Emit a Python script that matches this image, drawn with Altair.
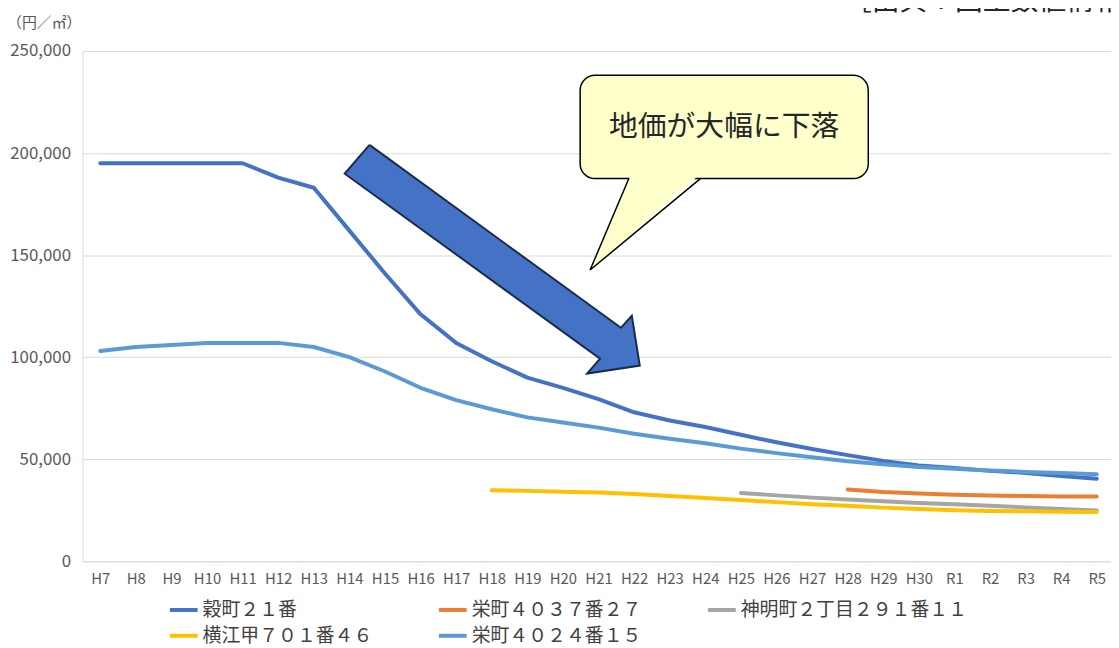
import altair as alt
import pandas as pd

FONT = "Noto Sans CJK JP"

# ---- data ----
cats = ["H7", "H8", "H9", "H10", "H11", "H12", "H13", "H14", "H15", "H16",
        "H17", "H18", "H19", "H20", "H21", "H22", "H23", "H24", "H25", "H26",
        "H27", "H28", "H29", "H30", "R1", "R2", "R3", "R4", "R5"]

series_names = ["穀町２１番", "栄町４０３７番２７", "神明町２丁目２９１番１１",
                "横江甲７０１番４６", "栄町４０２４番１５"]
series_colors = ["#4472C4", "#ED7D31", "#A5A5A5", "#FFC000", "#5B9BD5"]

s_koku21 = [195000, 195000, 195000, 195000, 195000, 188000, 183000, 162000, 141000, 121000,
            107000, 98000, 90000, 85000, 79500, 73000, 69000, 65800, 62000, 58300,
            55000, 52000, 49200, 47000, 45700, 44300, 43300, 41800, 40400]
s_sakae4037_27 = [None, None, None, None, None, None, None, None, None, None,
                  None, None, None, None, None, None, None, None, None, None,
                  None, 35200, 34000, 33200, 32600, 32200, 32000, 31800, 31800]
s_shinmei = [None, None, None, None, None, None, None, None, None, None,
             None, None, None, None, None, None, None, None, 33500, 32300,
             31200, 30300, 29400, 28600, 27900, 27200, 26400, 25600, 24900]
s_yokoe = [None, None, None, None, None, None, None, None, None, None,
           None, 34800, 34500, 34100, 33700, 33000, 32000, 31000, 30000, 29000,
           28000, 27200, 26300, 25600, 25000, 24700, 24500, 24300, 24200]
s_sakae4024_15 = [103000, 105000, 106000, 107000, 107000, 107000, 105000, 100000, 93000, 85000,
                  79000, 74500, 70500, 68000, 65500, 62500, 60000, 57800, 55200, 53000,
                  51000, 49000, 47600, 46200, 45300, 44500, 43800, 43300, 42700]

all_series = [s_koku21, s_sakae4037_27, s_shinmei, s_yokoe, s_sakae4024_15]

y_ticks = [0, 50000, 100000, 150000, 200000, 250000]
y_unit = "（円／㎡）"
source_text = "［出典：国土数値情報］"
callout_text = "地価が大幅に下落"

# annotation geometry in data units (category index, 円/㎡)
arrow_x = [7.566, 14.629, 14.936, 15.159, 13.680, 14.043, 6.868, 7.566]
arrow_y = [204000, 114400, 120300, 95900, 92000, 99300, 189900, 204000]
box_x, box_x2 = 13.484, 21.58
box_y, box_y2 = 187500, 238100
tail_fill_x = [14.90, 13.763, 16.80]
tail_fill_y = [189000, 142700, 189000]
tail_line_x = [14.852, 13.763, 16.862]
tail_line_y = [187500, 142700, 187500]
callout_pos = (17.53, 212800)

rows = []
for name, vals in zip(series_names, all_series):
    for i, v in enumerate(vals):
        if v is not None:
            rows.append({"series": name, "idx": i, "value": v})
df = pd.DataFrame(rows)

labels_js = "[" + ",".join("'%s'" % c for c in cats) + "]"

x_scale = alt.Scale(domain=[-0.5, len(cats) - 0.6], nice=False, zero=False)
y_scale = alt.Scale(domain=[0, 250000], nice=False)

x_axis = alt.Axis(title=None, values=list(range(len(cats))),
                  labelExpr=labels_js + "[datum.value]",
                  labelOverlap=False, labelFlush=False, grid=False,
                  ticks=False, domain=False, labelFontSize=15,
                  labelColor="#595959", labelPadding=10, labelFont=FONT)
y_axis = alt.Axis(title=y_unit, titleAngle=0, titleX=-39, titleY=-29,
                  titleAlign="center", titleBaseline="middle",
                  titleFontSize=15, titleFontWeight="normal",
                  titleColor="#595959", titleFont=FONT,
                  values=y_ticks, format=",d", grid=True,
                  gridColor="#D9D9D9", gridWidth=1, ticks=False,
                  domain=False, labelFontSize=17, labelColor="#595959",
                  labelPadding=12, labelFont=FONT)


def X(field):
    return alt.X(field, scale=x_scale, axis=x_axis)


def Y(field):
    return alt.Y(field, scale=y_scale, axis=y_axis)


color_enc = alt.Color("series:N",
                      scale=alt.Scale(domain=series_names, range=series_colors),
                      legend=alt.Legend(title=None, orient="none", legendX=86, legendY=547,
                                        direction="horizontal", columns=3,
                                        symbolType="stroke", symbolStrokeWidth=4,
                                        symbolSize=784, labelFontSize=19,
                                        labelColor="#404040", labelLimit=600,
                                        labelFont=FONT, columnPadding=58,
                                        rowPadding=0, labelOffset=3))

line_layers = []
for name in series_names:
    line_layers.append(
        alt.Chart(df).transform_filter(alt.datum.series == name)
        .mark_line(strokeWidth=4, strokeCap="round", strokeJoin="round")
        .encode(x=X("idx:Q"), y=Y("value:Q"), color=color_enc)
    )

arrow_df = pd.DataFrame({"idx": arrow_x, "value": arrow_y, "o": list(range(len(arrow_x)))})
arrow = alt.Chart(arrow_df).mark_line(fill="#4472C4", stroke="#1A2B4C", strokeWidth=2,
                                      strokeJoin="miter").encode(
    x=X("idx:Q"), y=Y("value:Q"), order="o:Q")

box_df = pd.DataFrame({"idx": [box_x], "x2": [box_x2], "value": [box_y], "y2": [box_y2]})
box = alt.Chart(box_df).mark_rect(fill="#FFFFCC", stroke="#000000", strokeWidth=1.5,
                                  cornerRadius=15).encode(
    x=X("idx:Q"), x2="x2:Q", y=Y("value:Q"), y2="y2:Q")

tail_fill_df = pd.DataFrame({"idx": tail_fill_x, "value": tail_fill_y, "o": [0, 1, 2]})
tail_fill = alt.Chart(tail_fill_df).mark_line(fill="#FFFFCC", stroke="#FFFFCC",
                                              strokeWidth=0.5).encode(
    x=X("idx:Q"), y=Y("value:Q"), order="o:Q")

tail_line_df = pd.DataFrame({"idx": tail_line_x, "value": tail_line_y, "o": [0, 1, 2]})
tail_line = alt.Chart(tail_line_df).mark_line(stroke="#000000", strokeWidth=1.5,
                                              strokeJoin="miter").encode(
    x=X("idx:Q"), y=Y("value:Q"), order="o:Q")

callout_df = pd.DataFrame({"idx": [callout_pos[0]], "value": [callout_pos[1]], "t": [callout_text]})
callout = alt.Chart(callout_df).mark_text(font=FONT, fontSize=29, color="#262626",
                                          align="center", baseline="middle").encode(
    x=X("idx:Q"), y=Y("value:Q"), text="t:N")

src_df = pd.DataFrame({"t": [source_text]})
src = alt.Chart(src_df).mark_text(font=FONT, fontSize=28, color="#262626",
                                  align="left", baseline="bottom").encode(
    x=alt.value(767), y=alt.value(-35), text="t:N")

chart = alt.layer(*line_layers, arrow, box, tail_fill, tail_line, callout, src).properties(
    width=1036, height=514,
    padding={"left": 75, "top": 41, "right": 0, "bottom": 85},
    autosize=alt.AutoSizeParams(type="none"),
).configure_view(stroke="transparent", strokeWidth=0).configure(font=FONT)

chart.save("out.html", embed_options={"renderer": "svg", "actions": False})
